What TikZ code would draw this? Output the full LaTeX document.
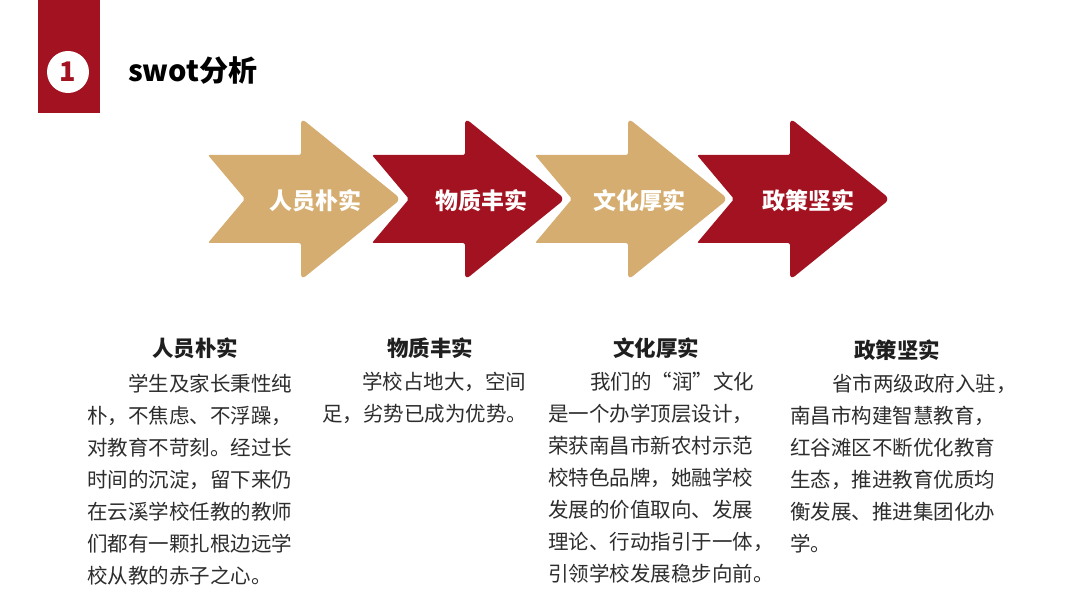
\documentclass[tikz,border=0pt]{standalone}
\usepackage{fontspec}
\setmainfont{Noto Sans CJK SC}
\definecolor{sred}{RGB}{162,18,32}
\definecolor{sgold}{RGB}{213,173,112}
\definecolor{bodytxt}{RGB}{45,45,45}
\newcommand\chevron[2]{%
  \fill[#2, shift={(#1,0)}, rounded corners=2pt]
    (0,155) -- (93,155) [rounded corners=6pt] -- (93,118) -- (193,199) -- (93,280) [rounded corners=2pt] -- (93,243) -- (0,243) -- (37,199) -- cycle;}
\begin{document}
\begin{tikzpicture}[x=1pt,y=-1pt,
  lbl/.style={font=\fontsize{23}{23}\selectfont\bfseries, text=white, inner sep=0pt},
  head/.style={font=\fontsize{21.5}{21.5}\selectfont\bfseries, text=black!88, inner sep=0pt},
  bodyline/.style={font=\fontsize{20.5}{20.5}\selectfont, text=bodytxt, anchor=base west, inner sep=0pt},
  title/.style={font=\fontsize{29}{29}\selectfont\bfseries, text=black, anchor=west, inner sep=0pt}]
\useasboundingbox (0,0) rectangle (1080,596);
\fill[white] (0,0) rectangle (1080,596);
% header
\fill[sred] (38,0) rectangle (100,113);
\node[circle, fill=white, minimum size=42pt, inner sep=0pt, text=sred,
      font=\fontsize{27}{27}\selectfont\bfseries] (num) at (68,72) {1};
\node[title] (ttl) at (128,71) {swot分析};
% arrows
\chevron{208}{sgold}
\chevron{372}{sred}
\chevron{535}{sgold}
\chevron{697}{sred}
\node[lbl] (a1) at (315,201) {人员朴实};
\node[lbl] (a2) at (481,201) {物质丰实};
\node[lbl] (a3) at (639,201) {文化厚实};
\node[lbl] (a4) at (808,201) {政策坚实};
% headings
\node[head] (h1) at (195,348) {人员朴实};
\node[head] (h2) at (430,348) {物质丰实};
\node[head] (h3) at (656,348) {文化厚实};
\node[head] (h4) at (897,350) {政策坚实};
% column 1
\node[bodyline] (c1l1) at (128,391) {学生及家长秉性纯};
\node[bodyline] (c1l2) at (87,423) {朴，不焦虑、不浮躁，};
\node[bodyline] (c1l3) at (87,455) {对教育不苛刻。经过长};
\node[bodyline] (c1l4) at (87,487) {时间的沉淀，留下来仍};
\node[bodyline] (c1l5) at (87,519) {在云溪学校任教的教师};
\node[bodyline] (c1l6) at (87,551) {们都有一颗扎根边远学};
\node[bodyline] (c1l7) at (87,583) {校从教的赤子之心。};
% column 2
\node[bodyline] (c2l1) at (362,389) {学校占地大，空间};
\node[bodyline] (c2l2) at (322,421) {足，劣势已成为优势。};
% column 3
\node[bodyline] (c3l1) at (590,389) {我们的“润”文化};
\node[bodyline] (c3l2) at (548,421) {是一个办学顶层设计，};
\node[bodyline] (c3l3) at (548,453) {荣获南昌市新农村示范};
\node[bodyline] (c3l4) at (548,485) {校特色品牌，她融学校};
\node[bodyline] (c3l5) at (548,517) {发展的价值取向、发展};
\node[bodyline] (c3l6) at (548,549) {理论、行动指引于一体，};
\node[bodyline] (c3l7) at (548,581) {引领学校发展稳步向前。};
% column 4
\node[bodyline] (c4l1) at (832,391) {省市两级政府入驻，};
\node[bodyline] (c4l2) at (790,423) {南昌市构建智慧教育，};
\node[bodyline] (c4l3) at (790,455) {红谷滩区不断优化教育};
\node[bodyline] (c4l4) at (790,487) {生态，推进教育优质均};
\node[bodyline] (c4l5) at (790,519) {衡发展、推进集团化办};
\node[bodyline] (c4l6) at (790,551) {学。};
\end{tikzpicture}
\end{document}
